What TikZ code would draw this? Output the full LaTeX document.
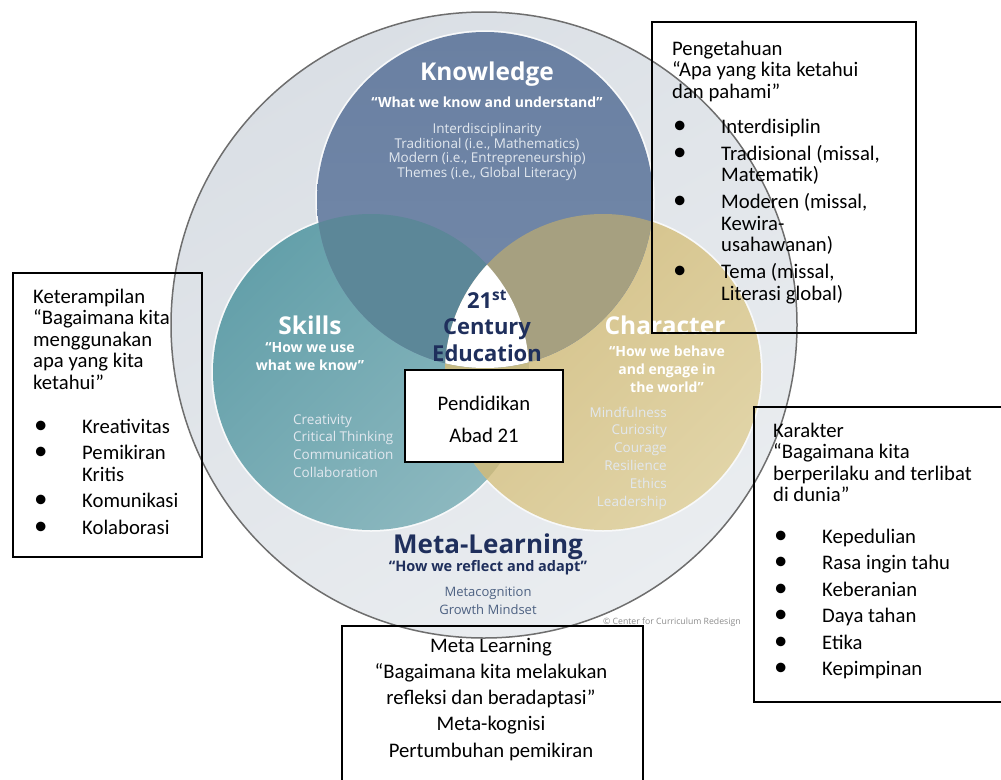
\documentclass[tikz,border=0pt]{standalone}
\usepackage{fontspec}
\setmainfont{Carlito}
\newfontfamily\vennfont{Open Sans}
\usetikzlibrary{positioning}

\definecolor{ringtop}{HTML}{DADFE5}
\definecolor{ringlow}{HTML}{EAEDF0}
\definecolor{ringline}{HTML}{6E6E6E}
\definecolor{knowblue}{HTML}{6A80A2}
\definecolor{knowlight}{HTML}{7389A9}
\definecolor{tealdark}{HTML}{64A0AA}
\definecolor{teallight}{HTML}{8CB8BF}
\definecolor{tandark}{HTML}{D3C087}
\definecolor{tanlight}{HTML}{E1D4A7}
\definecolor{knowskill}{HTML}{5C8798}
\definecolor{knowchar}{HTML}{A6A080}
\definecolor{skillchar}{HTML}{C6BA84}
\definecolor{navy}{HTML}{1F2F5C}
\definecolor{softnavy}{HTML}{4D6182}
\definecolor{softwhite}{HTML}{E2E8EF}

% bullet rows of the text boxes
\newcommand{\bulline}[1]{\makebox[49pt][l]{\hspace*{1pt}\scalebox{1.3}{\textbullet}}#1}
\newcommand{\contline}[1]{\hspace*{49pt}#1}

\tikzset{
  frame/.style={draw, line width=1.1pt, anchor=north west, inner sep=0pt, outer sep=0pt},
  boxtext/.style={anchor=north west, inner sep=0pt, align=left, font=\fontsize{20.7}{21.5}\selectfont},
  vhead/.style={text=white, inner sep=0pt, font=\vennfont\bfseries\fontsize{24.5}{26}\selectfont},
  vmotto/.style={text=white, inner sep=0pt, align=center, font=\vennfont\bfseries\fontsize{14}{18}\selectfont},
  vlist/.style={text=softwhite, inner sep=0pt, font=\vennfont\fontsize{13.5}{17.8}\selectfont},
}

\begin{document}
\begin{tikzpicture}[x=1pt, y=-1pt]
\useasboundingbox (0,0) rectangle (1001,779);

% centres of the rings
\coordinate (mid) at (484,325);
\coordinate (know) at (485,200);
\coordinate (skill) at (371,372);
\coordinate (char) at (603,372);

% outer ring
\shade[top color=ringtop, bottom color=ringlow, shading angle=30] (mid) circle[radius=313];
\draw[ringline, line width=1.5pt] (mid) circle[radius=313];

% soft rim, then the three sets
\foreach \c/\r in {know/168, skill/158, char/158}
  \draw[white!80!ringtop, line width=3.5pt] (\c) circle[radius=\r];
\shade[top color=tealdark, bottom color=teallight, shading angle=45] (skill) circle[radius=158];
\shade[top color=tandark, bottom color=tanlight, shading angle=45] (char) circle[radius=158];
\shade[top color=knowblue, bottom color=knowlight] (know) circle[radius=168];
\begin{scope}
  \clip (skill) circle[radius=158];
  \fill[skillchar] (char) circle[radius=158];
\end{scope}
\begin{scope}
  \clip (know) circle[radius=168];
  \fill[knowskill] (skill) circle[radius=158];
  \fill[knowchar] (char) circle[radius=158];
  \clip (skill) circle[radius=158];
  \fill[white] (char) circle[radius=158];
\end{scope}

% labels inside the sets
\node[vhead] (knowhead) at (487,74) {Knowledge};
\node[vmotto] (knowmotto) at (487,102) {“What we know and understand”};
\node[vlist, align=center, font=\vennfont\fontsize{13.5}{14.5}\selectfont] (knowlist) at (487,152)
  {Interdisciplinarity\\Traditional (i.e., Mathematics)\\Modern (i.e., Entrepreneurship)\\Themes (i.e., Global Literacy)};

\node[vhead] (skillhead) at (310,325) {Skills};
\node[vmotto] (skillmotto) at (310,357) {“How we use\\what we know”};
\node[vlist, align=left, anchor=west] (skilllist) at (293,446)
  {Creativity\\Critical Thinking\\Communication\\Collaboration};

\node[vhead] (charhead) at (665,325) {Character};
\node[vmotto] (charmotto) at (667,369) {“How we behave\\and engage in\\the world”};
\node[vlist, align=right, anchor=east] (charlist) at (667,458)
  {Mindfulness\\Curiosity\\Courage\\Resilience\\Ethics\\Leadership};

\node[text=navy, inner sep=0pt, align=center, font=\vennfont\bfseries\fontsize{22}{26.5}\selectfont]
  (century) at (487,326) {21\textsuperscript{st}\\Century\\Education};

\node[text=navy, inner sep=0pt, font=\vennfont\bfseries\fontsize{26}{28}\selectfont] (metahead) at (488,547) {Meta-Learning};
\node[text=navy, inner sep=0pt, font=\vennfont\bfseries\fontsize{14.5}{16}\selectfont] (metamotto) at (488,568) {“How we reflect and adapt”};
\node[text=softnavy, inner sep=0pt, align=center, font=\vennfont\fontsize{13}{18.5}\selectfont] (metalist) at (488,601)
  {Metacognition\\Growth Mindset};
\node[text=black!45, inner sep=0pt, anchor=west, font=\vennfont\fontsize{8.7}{10}\selectfont] (credit) at (603,622)
  {© Center for Curriculum Redesign};

% centre box
\node[frame, fill=white, minimum width=158pt, minimum height=92pt] (abadbox) at (405,370) {};
\node[boxtext, anchor=north, align=center] (abadtext) at (484,395) {\strut Pendidikan\\[10.5pt]Abad 21};

% text boxes round the diagram (\strut pins the first baseline)
\node[frame, minimum width=264pt, minimum height=311pt] (pengbox) at (652,22) {};
\node[boxtext] (pengtext) at (672,40)
  {\strut Pengetahuan\\“Apa yang kita ketahui\\dan pahami”\\[13.5pt]
   \bulline{Interdisiplin}\\[5.5pt]
   \bulline{Tradisional (missal,}\\
   \contline{Matematik)}\\[5.5pt]
   \bulline{Moderen (missal,}\\
   \contline{Kewira-}\\
   \contline{usahawanan)}\\[5.5pt]
   \bulline{Tema (missal,}\\
   \contline{Literasi global)}};

\node[frame, minimum width=189pt, minimum height=284pt] (skillbox) at (13,273) {};
\node[boxtext] (skilltext) at (33,288)
  {\strut Keterampilan\\“Bagaimana kita\\menggunakan\\apa yang kita\\ketahui”\\[22.5pt]
   \bulline{Kreativitas}\\[5pt]
   \bulline{Pemikiran}\\
   \contline{Kritis}\\[5pt]
   \bulline{Komunikasi}\\[5pt]
   \bulline{Kolaborasi}};

\node[frame, minimum width=260pt, minimum height=295pt] (charbox) at (754,407) {};
\node[boxtext] (chartext) at (773,422)
  {\strut Karakter\\“Bagaimana kita\\berperilaku and terlibat\\di dunia”\\[20pt]
   \bulline{Kepedulian}\\[5pt]
   \bulline{Rasa ingin tahu}\\[5pt]
   \bulline{Keberanian}\\[5pt]
   \bulline{Daya tahan}\\[5pt]
   \bulline{Etika}\\[5pt]
   \bulline{Kepimpinan}};

\node[frame, minimum width=301pt, minimum height=160pt] (metabox) at (342,626) {};
\node[boxtext, anchor=north, align=center, font=\fontsize{20.7}{26.2}\selectfont] (metatext) at (491,633.7)
  {\strut Meta Learning\\“Bagaimana kita melakukan\\refleksi dan beradaptasi”\\Meta-kognisi\\Pertumbuhan pemikiran};

\end{tikzpicture}
\end{document}
